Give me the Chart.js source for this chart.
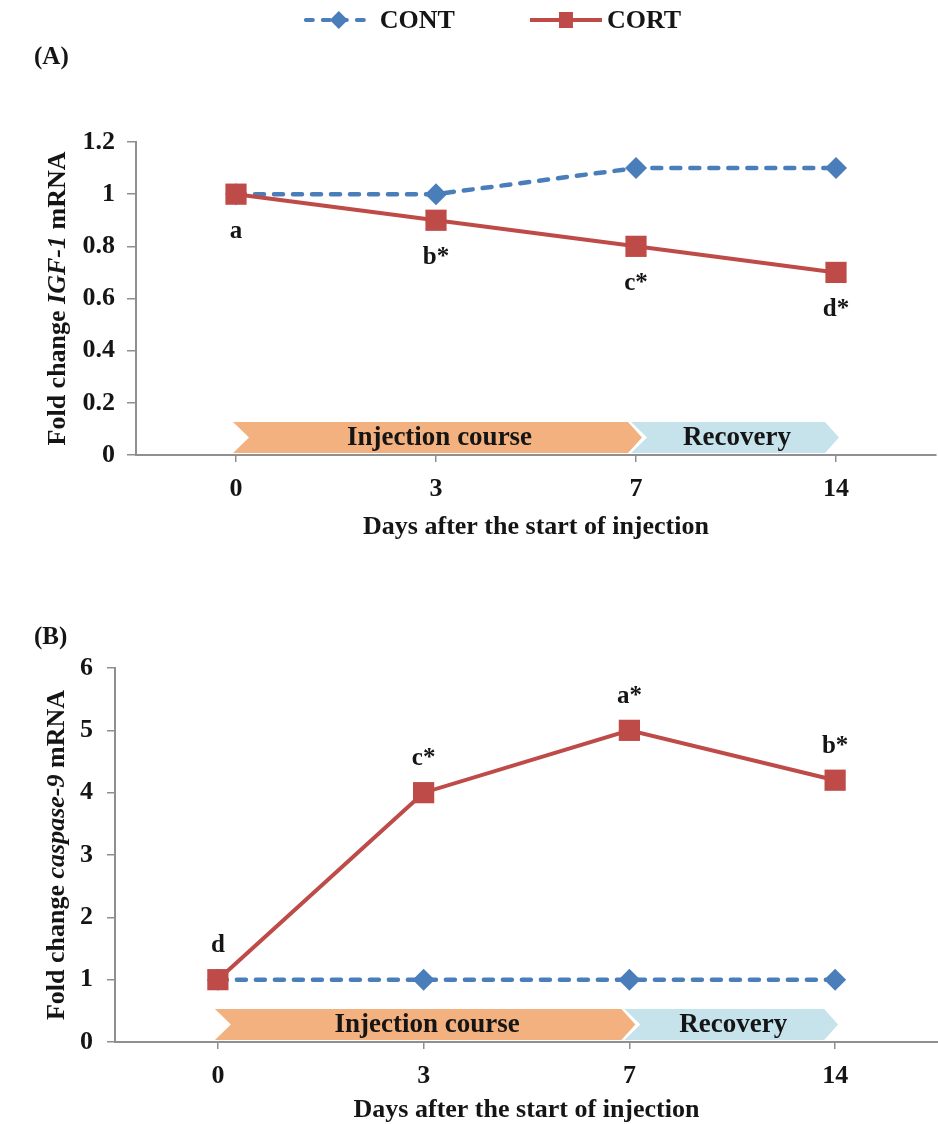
<!DOCTYPE html>
<html>
<head>
<meta charset="utf-8">
<title>IGF-1 and caspase-9 fold change</title>
<script src="https://cdn.jsdelivr.net/npm/chart.js@4.4.1/dist/chart.umd.min.js"></script>
<style>
  html, body { margin: 0; padding: 0; background: #fff; }
  #wrap { position: relative; width: 938px; height: 1124px; overflow: hidden; }
  .panel { position: absolute; left: 0; width: 938px; }
  #panelA { top: 0; height: 560px; }
  #panelB { top: 556px; height: 572px; }
</style>
</head>
<body>
<div id="wrap">
  <div class="panel" id="panelA"><canvas id="chartA"></canvas></div>
  <div class="panel" id="panelB"><canvas id="chartB"></canvas></div>
</div>
<script>
// x categories (days)
var days = ['0', '3', '7', '14'];
var seriesNames = ['CONT', 'CORT'];

// (A) IGF-1
var igfCont = [1, 1, 1.1, 1.1];
var igfCort = [1, 0.9, 0.8, 0.7];
var igfLetters = ['a', 'b*', 'c*', 'd*'];
var igfTitle = [['Fold change ', false], ['IGF-1', true], [' mRNA', false]];

// (B) caspase-9
var caspCont = [1, 1, 1, 1];
var caspCort = [1, 4, 5, 4.2];
var caspLetters = ['d', 'c*', 'a*', 'b*'];
var caspTitle = [['Fold change ', false], ['caspase-9', true], [' mRNA', false]];

// phase arrows along the x axis
var phaseNames = ['Injection course', 'Recovery'];
var phaseFrom = ['0', '7'];
var phaseTo = ['7', '14'];

var xTitle = 'Days after the start of injection';

var SERIF = '"Liberation Serif", "Times New Roman", serif';
var BLUE = '#4a7ebb';
var RED = '#be4b48';
var ORANGE = '#f2b17f';
var LIGHTBLUE = '#c6e3ec';
var AXIS = '#8f8f8f';
var INK = '#151515';

// arrows "Injection course" / "Recovery" sitting on the x axis
var phasePlugin = {
  id: 'phases',
  beforeDatasetsDraw: function (chart) {
    var ctx = chart.ctx, x = chart.scales.x, area = chart.chartArea;
    var yb = area.bottom - 2, yt = yb - 31, ym = (yt + yb) / 2, d = 14;
    var fills = [ORANGE, LIGHTBLUE];
    ctx.save();
    for (var i = 0; i < phaseNames.length; i++) {
      var x0 = x.getPixelForValue(days.indexOf(phaseFrom[i])) - (i === 0 ? 3 : 5);
      var x1 = x.getPixelForValue(days.indexOf(phaseTo[i])) + (i === phaseNames.length - 1 ? 3 : 6);
      ctx.beginPath();
      ctx.moveTo(x0, yt);
      ctx.lineTo(x1 - d, yt);
      ctx.lineTo(x1, ym);
      ctx.lineTo(x1 - d, yb);
      ctx.lineTo(x0, yb);
      ctx.lineTo(x0 + d + 2, ym);
      ctx.closePath();
      ctx.fillStyle = fills[i];
      ctx.fill();
      ctx.fillStyle = INK;
      ctx.font = 'bold 27px ' + SERIF;
      ctx.textAlign = 'center';
      ctx.textBaseline = 'middle';
      ctx.fillText(phaseNames[i], (x0 + x1) / 2 + 2, ym + 1);
    }
    ctx.restore();
  }
};

// significance letters next to the CORT points
function lettersPlugin(values, letters, shift) {
  return {
    id: 'letters',
    afterDatasetsDraw: function (chart) {
      var ctx = chart.ctx, x = chart.scales.x, y = chart.scales.y;
      ctx.save();
      ctx.font = 'bold 25px ' + SERIF;
      ctx.fillStyle = INK;
      ctx.textAlign = 'center';
      ctx.textBaseline = 'middle';
      letters.forEach(function (t, i) {
        ctx.fillText(t, x.getPixelForValue(i), y.getPixelForValue(values[i]) + shift);
      });
      ctx.restore();
    }
  };
}

// rotated y title with an italic gene name
function yTitlePlugin(parts, cx) {
  return {
    id: 'yTitle',
    afterDraw: function (chart) {
      var ctx = chart.ctx, area = chart.chartArea;
      var fonts = parts.map(function (p) { return (p[1] ? 'italic ' : '') + 'bold 26px ' + SERIF; });
      ctx.save();
      var widths = parts.map(function (p, i) { ctx.font = fonts[i]; return ctx.measureText(p[0]).width; });
      var total = widths.reduce(function (a, b) { return a + b; }, 0);
      ctx.translate(cx, (area.top + area.bottom) / 2);
      ctx.rotate(-Math.PI / 2);
      ctx.fillStyle = INK;
      ctx.textBaseline = 'middle';
      ctx.textAlign = 'left';
      var pos = -total / 2;
      parts.forEach(function (p, i) {
        ctx.font = fonts[i];
        ctx.fillText(p[0], pos, 0);
        pos += widths[i];
      });
      ctx.restore();
    }
  };
}

function panelLabelPlugin(text, px, py) {
  return {
    id: 'panelLabel',
    afterDraw: function (chart) {
      var ctx = chart.ctx;
      ctx.save();
      ctx.font = 'bold 25px ' + SERIF;
      ctx.fillStyle = INK;
      ctx.textAlign = 'left';
      ctx.textBaseline = 'middle';
      ctx.fillText(text, px, py);
      ctx.restore();
    }
  };
}

// shared legend drawn across the top of panel A
var legendPlugin = {
  id: 'topLegend',
  afterDraw: function (chart) {
    var ctx = chart.ctx, y = 20, symW = 72, gap = 5, between = 75;
    ctx.save();
    ctx.font = 'bold 26px ' + SERIF;
    var w0 = ctx.measureText(seriesNames[0]).width, w1 = ctx.measureText(seriesNames[1]).width;
    var total = symW + gap + w0 + between + symW + gap + w1;
    var x = 492 - total / 2;

    // CONT symbol
    ctx.strokeStyle = BLUE;
    ctx.lineWidth = 4;
    ctx.lineCap = 'round';
    ctx.setLineDash([7, 10]);
    ctx.beginPath();
    ctx.moveTo(x + 3, y);
    ctx.lineTo(x + symW - 3, y);
    ctx.stroke();
    ctx.setLineDash([]);
    ctx.fillStyle = BLUE;
    var cx = x + symW / 2;
    ctx.beginPath();
    ctx.moveTo(cx - 9, y); ctx.lineTo(cx, y - 9); ctx.lineTo(cx + 9, y); ctx.lineTo(cx, y + 9);
    ctx.closePath();
    ctx.fill();
    ctx.fillStyle = INK;
    ctx.textBaseline = 'middle';
    ctx.fillText(seriesNames[0], x + symW + gap, y + 1);

    // CORT symbol
    x += symW + gap + w0 + between;
    ctx.strokeStyle = RED;
    ctx.lineWidth = 4;
    ctx.lineCap = 'butt';
    ctx.beginPath();
    ctx.moveTo(x, y);
    ctx.lineTo(x + symW, y);
    ctx.stroke();
    ctx.fillStyle = RED;
    cx = x + symW / 2;
    ctx.fillRect(cx - 7, y - 8, 14, 16);
    ctx.fillStyle = INK;
    ctx.fillText(seriesNames[1], x + symW + gap, y + 1);
    ctx.restore();
  }
};

function makePanel(id, cfg) {
  var tickFont = { family: SERIF, size: 26, weight: 'bold' };
  return new Chart(document.getElementById(id), {
    type: 'line',
    data: {
      labels: days,
      datasets: [
        {
          label: seriesNames[0],
          data: cfg.cont,
          borderColor: BLUE,
          backgroundColor: BLUE,
          borderWidth: 4.5,
          borderDash: [9, 10],
          borderCapStyle: 'round',
          pointStyle: 'rectRot',
          pointRadius: 11,
          pointBorderWidth: 0,
          pointBackgroundColor: BLUE,
          tension: 0,
          order: 1
        },
        {
          label: seriesNames[1],
          data: cfg.cort,
          borderColor: RED,
          backgroundColor: RED,
          borderWidth: 4,
          pointStyle: 'rect',
          pointRadius: 15,
          pointBorderWidth: 0,
          pointBackgroundColor: RED,
          tension: 0,
          order: 0
        }
      ]
    },
    options: {
      responsive: true,
      maintainAspectRatio: false,
      animation: false,
      devicePixelRatio: 1,
      layout: { autoPadding: false, padding: { top: cfg.top, right: cfg.right, left: 0, bottom: 0 } },
      plugins: { legend: { display: false }, tooltip: { enabled: false } },
      scales: {
        x: {
          offset: true,
          grid: { drawOnChartArea: false, offset: false, tickLength: 7, color: AXIS, lineWidth: 1.5 },
          border: { color: AXIS, width: 2 },
          ticks: { font: tickFont, color: INK, padding: 12 },
          title: {
            display: true,
            text: xTitle,
            color: INK,
            font: { family: SERIF, size: 26, weight: 'bold', lineHeight: 1.1 },
            padding: { top: 0, bottom: cfg.titlePad }
          },
          afterFit: function (s) {
            s.height = cfg.xHeight;
            s.paddingLeft = 0;
            s.paddingRight = 0;
          }
        },
        y: {
          min: 0,
          max: cfg.ymax,
          grid: { drawOnChartArea: false, tickLength: cfg.yTick, color: AXIS, lineWidth: 1.5 },
          border: { color: AXIS, width: 2 },
          ticks: {
            stepSize: cfg.ystep,
            font: tickFont,
            color: INK,
            padding: cfg.yPad,
            callback: function (v) { return String(Math.round(v * 10) / 10); }
          },
          afterFit: function (s) { s.width = cfg.left; }
        }
      }
    },
    plugins: cfg.plugins
  });
}

makePanel('chartA', {
  cont: igfCont, cort: igfCort, ymax: 1.2, ystep: 0.2,
  top: 142, right: 2, left: 136, xHeight: 105, titlePad: 18, yTick: 9, yPad: 12,
  plugins: [phasePlugin, lettersPlugin(igfCort, igfLetters, 37), yTitlePlugin(igfTitle, 58),
            panelLabelPlugin('(A)', 34, 58), legendPlugin]
});

makePanel('chartB', {
  cont: caspCont, cort: caspCort, ymax: 6, ystep: 1,
  top: 112, right: 0, left: 115, xHeight: 86, titlePad: 3, yTick: 8, yPad: 14,
  plugins: [phasePlugin, lettersPlugin(caspCort, caspLetters, -34), yTitlePlugin(caspTitle, 57),
            panelLabelPlugin('(B)', 34, 82)]
});
</script>
</body>
</html>
